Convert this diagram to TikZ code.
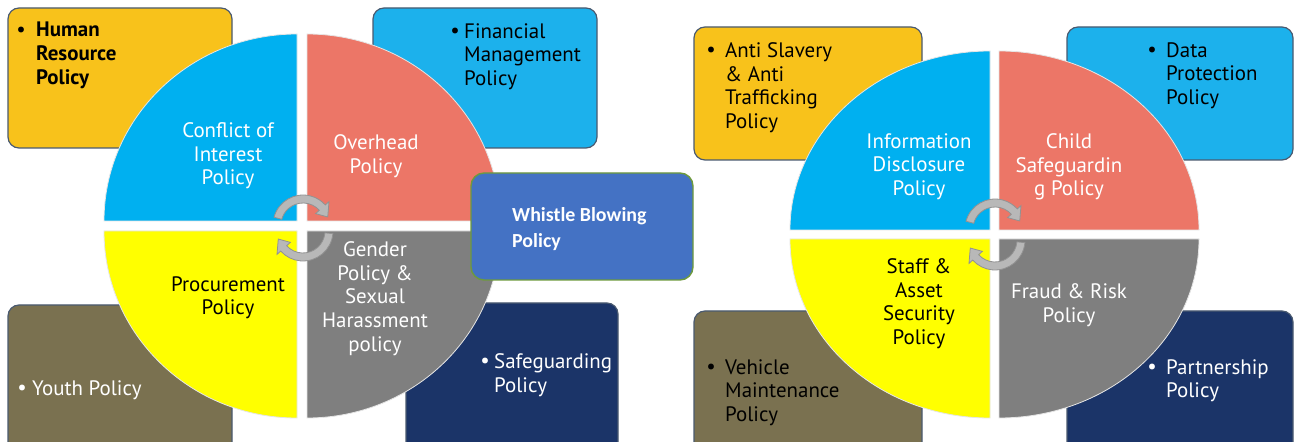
\documentclass[tikz,border=0pt]{standalone}
\usepackage{fontspec}
\setmainfont{PT Sans}
\newfontfamily\whfont{Carlito}
\usetikzlibrary{calc}
\definecolor{cgold}{HTML}{F8C21B}
\definecolor{cltblue}{HTML}{1CB1EC}
\definecolor{cqblue}{HTML}{00B0F0}
\definecolor{cred}{HTML}{EC7667}
\definecolor{cyel}{HTML}{FFFF00}
\definecolor{cgray}{HTML}{7F7F7F}
\definecolor{colive}{HTML}{7A7150}
\definecolor{cnavy}{HTML}{1B3468}
\definecolor{cwhistle}{HTML}{4472C4}
\definecolor{cwhline}{HTML}{6E9A3C}
\definecolor{boxline}{HTML}{4A5A70}
\definecolor{arrfill}{HTML}{B8B8B8}
\definecolor{arrline}{HTML}{929292}
\begin{document}
\begin{tikzpicture}[x=1bp,y=-1bp,
  quad/.style={draw=black!10, line width=0.8bp},
  pbox/.style={draw=boxline, line width=1.2bp, rounded corners=11bp},
  qtext/.style={inner sep=0, anchor=north, align=center, font=\fontsize{21}{24}\selectfont},
  btext/.style={inner sep=0, anchor=north west, align=left, font=\fontsize{21}{24}\selectfont},
  bul/.style={inner sep=0, anchor=base, font=\fontsize{21}{24}\selectfont},
  arrowshape/.style={fill=arrfill, draw=arrline, line width=0.8bp}]
\useasboundingbox (0,0) rectangle (1294,442);
\fill[white] (0,0) rectangle (1294,442);

% ---------- background boxes (behind circles) ----------
\draw[pbox, fill=cgold]  (8,8) rectangle (232,148);
\draw[pbox, fill=cltblue] (373,8) rectangle (597,148);
\draw[pbox, fill=colive] (8,305) rectangle (232,470);
\draw[pbox, fill=cnavy]  (406,303) rectangle (618,470);
\draw[pbox, fill=cgold]  (694,27) rectangle (922,160);
\draw[pbox, fill=cltblue] (1067,27) rectangle (1293,160);
\draw[pbox, fill=colive] (694,311) rectangle (922,470);
\draw[pbox, fill=cnavy]  (1067,311) rectangle (1293,470);

% ---------- left circle ----------
\def\rx{193}\def\ry{187}
\draw[quad, fill=cqblue] (297,221) -- ++(-\rx,0) arc[start angle=180,end angle=270,x radius=\rx,y radius=\ry] -- cycle;
\draw[quad, fill=cred] (307,221) -- ++(0,-\ry) arc[start angle=270,end angle=360,x radius=\rx,y radius=\ry] -- cycle;
\draw[quad, fill=cgray] (307,231) -- ++(\rx,0) arc[start angle=0,end angle=90,x radius=\rx,y radius=\ry] -- cycle;
\draw[quad, fill=cyel] (297,231) -- ++(0,\ry) arc[start angle=90,end angle=180,x radius=\rx,y radius=\ry] -- cycle;

% ---------- right circle ----------
\def\rx{200}\def\ry{179}
\draw[quad, fill=cqblue] (990,230) -- ++(-\rx,0) arc[start angle=180,end angle=270,x radius=\rx,y radius=\ry] -- cycle;
\draw[quad, fill=cred] (999,230) -- ++(0,-\ry) arc[start angle=270,end angle=360,x radius=\rx,y radius=\ry] -- cycle;
\draw[quad, fill=cgray] (999,239) -- ++(\rx,0) arc[start angle=0,end angle=90,x radius=\rx,y radius=\ry] -- cycle;
\draw[quad, fill=cyel] (990,239) -- ++(0,\ry) arc[start angle=90,end angle=180,x radius=\rx,y radius=\ry] -- cycle;

% ---------- cycle arrows ----------
\foreach \cx/\cy in {303/225, 995/229} {
  \coordinate (C) at (\cx,\cy);
  \filldraw[arrowshape] ($(C)+(-165:30)$) arc[start angle=-165,end angle=-42,radius=30]
    -- ($(C)+(-42:35)$) -- ($(C)+(-18:26)$) -- ($(C)+(-42:17)$) -- ($(C)+(-42:22)$)
    arc[start angle=-42,end angle=-165,radius=22] -- cycle;
}
\foreach \cx/\cy in {303/231, 995/240} {
  \coordinate (C) at (\cx,\cy);
  \filldraw[arrowshape] ($(C)+(5:30)$) arc[start angle=5,end angle=138,radius=30]
    -- ($(C)+(138:35)$) -- ($(C)+(162:26)$) -- ($(C)+(138:17)$) -- ($(C)+(138:22)$)
    arc[start angle=138,end angle=5,radius=22] -- cycle;
}

% ---------- whistle blowing box (front) ----------
\draw[draw=cwhline, line width=1.4bp, rounded corners=13bp, fill=cwhistle] (471,173) rectangle (693,280);
\node[inner sep=0, anchor=north west, align=left, text=white, font=\whfont\bfseries\fontsize{20}{26}\selectfont] (whistle) at (512,207) {Whistle Blowing\\Policy};

% ---------- quadrant texts, left ----------
\node[qtext, text=white] (coi) at (228,122) {Conflict of\\Interest\\Policy};
\node[qtext, text=white] (ovh) at (376,134) {Overhead\\Policy};
\node[qtext, text=black] (proc) at (228,276) {Procurement\\Policy};
\node[qtext, text=white] (gend) at (375,241) {Gender\\Policy \&\\Sexual\\Harassment\\policy};

% ---------- quadrant texts, right ----------
\node[qtext, text=white] (info) at (919,133) {Information\\Disclosure\\Policy};
\node[qtext, text=white] (child) at (1069,133) {Child\\Safeguardin\\g Policy};
\node[qtext, text=black] (staff) at (919,258) {Staff \&\\Asset\\Security\\Policy};
\node[qtext, text=white] (fraud) at (1069,283) {Fraud \& Risk\\Policy};

% ---------- box texts ----------
\node[bul, text=black] (b1) at (21,37) {•};
\node[btext, text=black, font=\bfseries\fontsize{21}{24}\selectfont] (hr) at (36,22) {Human\\Resource\\Policy};
\node[bul, text=black] (b2) at (455,38) {•};
\node[btext, text=black] (fin) at (464,23) {Financial\\Management\\Policy};
\node[bul, text=white] (b3) at (22,395) {•};
\node[btext, text=white] (youth) at (32,380) {Youth Policy};
\node[bul, text=white] (b4) at (485,368) {•};
\node[btext, text=white] (safe) at (494,353) {Safeguarding\\Policy};
\node[bul, text=black] (b5) at (711,57) {•};
\node[btext, text=black] (anti) at (725,42) {Anti Slavery\\\& Anti\\Trafficking\\Policy};
\node[bul, text=black] (b6) at (1152,57) {•};
\node[btext, text=black] (data) at (1166,42) {Data\\Protection\\Policy};
\node[bul, text=black] (b7) at (711,374) {•};
\node[btext, text=black] (veh) at (725,359) {Vehicle\\Maintenance\\Policy};
\node[bul, text=white] (b8) at (1152,374) {•};
\node[btext, text=white] (part) at (1166,359) {Partnership\\Policy};
\end{tikzpicture}
\end{document}
